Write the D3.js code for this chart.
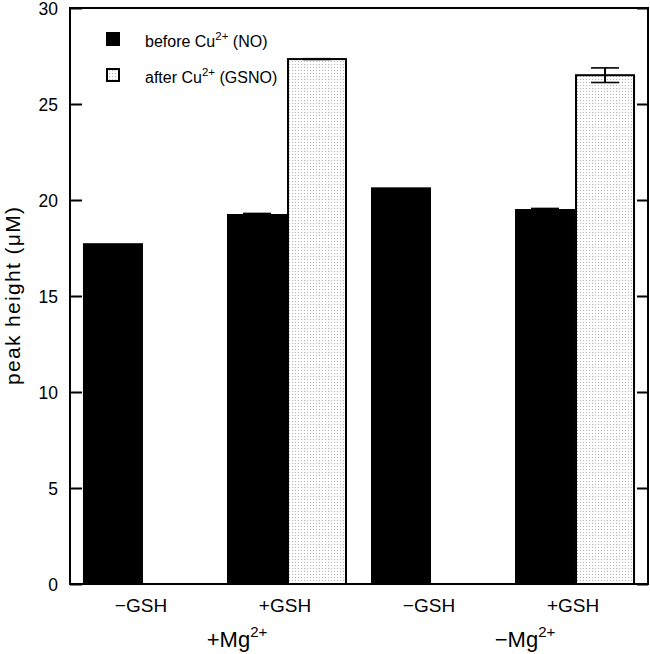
<!DOCTYPE html>
<html><head><meta charset="utf-8">
<script src="https://cdn.jsdelivr.net/npm/d3@7"></script>
<style>body{margin:0;background:#fff}svg{display:block;font-family:"Liberation Sans",Arial,sans-serif}</style>
</head><body><svg id="c" width="650" height="654"></svg>
<script>
const categories = ["−GSH", "+GSH", "−GSH", "+GSH"];
const groupLabels = [{main:"+Mg", sup:"2+", cats:[0,1]}, {main:"−Mg", sup:"2+", cats:[2,3]}];
const seriesKeys = ["before", "after"];
const beforeVals = [17.75, 19.27, 20.66, 19.53];
const beforeErr  = [0, 0.03, 0, 0.03];
const afterVals  = [null, 27.34, null, 26.5];
const afterErr   = [null, 0.02, null, 0.38];
const yTicks = [0, 5, 10, 15, 20, 25, 30];

const svg = d3.select("#c");
const L = 70, R = 648, T = 8, B = 584;

const defs = svg.append("defs");
const pat = defs.append("pattern").attr("id","dots").attr("patternUnits","userSpaceOnUse")
  .attr("width",3).attr("height",3);
pat.append("rect").attr("width",3).attr("height",3).attr("fill","#fff");
pat.append("rect").attr("x",1).attr("y",1).attr("width",1).attr("height",1).attr("fill","#b4b4b4");

const x0 = d3.scaleBand().domain(d3.range(categories.length)).range([L, R])
  .paddingInner(24/144).paddingOuter(0.09);
const x1 = d3.scaleBand().domain(seriesKeys).range([0, x0.bandwidth()]);
const y = d3.scaleLinear().domain([0, 30]).range([B, T]);

const data = categories.map((c, i) => ({i, before: beforeVals[i], bErr: beforeErr[i], after: afterVals[i], aErr: afterErr[i]}));

const g = svg.append("g");
data.forEach(d => {
  const gx = x0(d.i);
  g.append("rect").attr("x", gx + x1("before")).attr("y", y(d.before))
    .attr("width", x1.bandwidth()).attr("height", y(0) - y(d.before)).attr("fill", "#000");
  if (d.after != null) {
    g.append("rect").attr("x", gx + x1("after") + 1).attr("y", y(d.after))
      .attr("width", x1.bandwidth() - 2).attr("height", y(0) - y(d.after))
      .attr("fill", "url(#dots)").attr("stroke", "#000").attr("stroke-width", 2);
  }
});

function errBar(cx, v, e) {
  if (!e) return;
  const hw = 14;
  g.append("line").attr("x1", cx).attr("x2", cx).attr("y1", y(v + e)).attr("y2", y(v - e))
    .attr("stroke", "#000").attr("stroke-width", 2);
  [v + e, v - e].forEach(t => g.append("line").attr("x1", cx - hw).attr("x2", cx + hw)
    .attr("y1", y(t)).attr("y2", y(t)).attr("stroke", "#000").attr("stroke-width", 1.6));
}
data.forEach(d => {
  const gx = x0(d.i);
  errBar(gx + x1("before") + x1.bandwidth()/2, d.before, d.bErr);
  if (d.after != null) errBar(gx + x1("after") + x1.bandwidth()/2, d.after, d.aErr);
});

const ax = svg.append("g").attr("transform", `translate(${L},0)`)
  .call(d3.axisLeft(y).tickValues(yTicks).tickSize(-12).tickPadding(12));
ax.select(".domain").remove();
ax.selectAll(".tick line").attr("stroke-width", 2);
ax.selectAll(".tick text").attr("font-size", 17.5).attr("dy", "0.36em")
  .attr("font-family", "Liberation Sans, Arial, sans-serif").attr("fill","#000");
const axr = svg.append("g").attr("transform", `translate(${R},0)`)
  .call(d3.axisRight(y).tickValues(yTicks).tickSize(-11).tickFormat(""));
axr.select(".domain").remove();
axr.selectAll(".tick line").attr("stroke-width", 2);

svg.append("rect").attr("x", L).attr("y", T).attr("width", R - L).attr("height", B - T)
  .attr("fill", "none").attr("stroke", "#000").attr("stroke-width", 2);

svg.append("g").selectAll("text").data(categories).join("text")
  .attr("x", (d, i) => x0(i) + x0.bandwidth()/2 - 2).attr("y", 612)
  .attr("text-anchor", "middle").attr("font-size", 19).text(d => d);

groupLabels.forEach(gl => {
  const cx = (x0(gl.cats[0]) + x0(gl.cats[1]) + x0.bandwidth()) / 2 + 22;
  const t = svg.append("text").attr("x", cx).attr("y", 647).attr("text-anchor", "middle").attr("font-size", 22);
  t.append("tspan").text(gl.main);
  t.append("tspan").attr("dy", -10).attr("font-size", 15).text(gl.sup);
});

svg.append("text").attr("transform", "rotate(-90)").attr("x", -(T + B)/2).attr("y", 20)
  .attr("text-anchor", "middle").attr("font-size", 21).attr("textLength", 178).attr("lengthAdjust","spacing")
  .text("peak height (μM)");

const legend = [{key:"before", label:"before Cu", tail:" (NO)"}, {key:"after", label:"after Cu", tail:" (GSNO)"}];
legend.forEach((lg, i) => {
  const yy = 32 + i * 36;
  if (lg.key === "before") {
    svg.append("rect").attr("x", 106).attr("y", yy).attr("width", 14).attr("height", 14).attr("fill", "#000");
  } else {
    svg.append("rect").attr("x", 107).attr("y", yy + 1).attr("width", 12).attr("height", 12)
      .attr("fill", "url(#dots)").attr("stroke", "#000").attr("stroke-width", 2);
  }
  const t = svg.append("text").attr("x", 145).attr("y", yy + 15).attr("font-size", 16);
  t.append("tspan").text(lg.label);
  t.append("tspan").attr("dy", -7).attr("font-size", 11.5).text("2+");
  t.append("tspan").attr("dy", 7).text(lg.tail);
});
</script></body></html>
